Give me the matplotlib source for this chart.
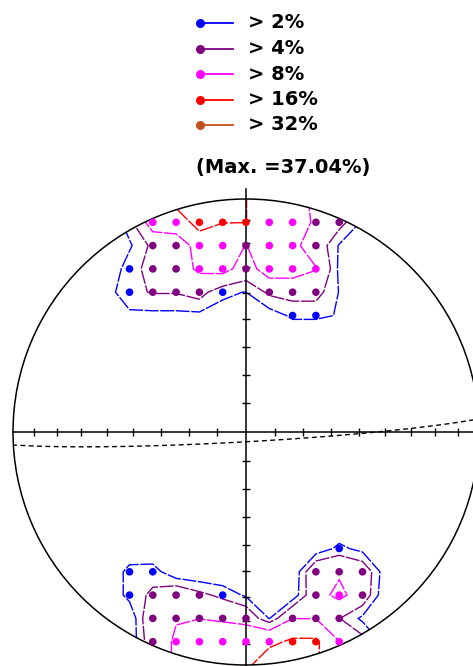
import numpy as np
import matplotlib
matplotlib.use("Agg")
import matplotlib.pyplot as plt
from matplotlib.patches import Circle
from matplotlib.lines import Line2D

# contour levels (percent of poles per counting cell)
levels = [2, 4, 8, 16, 32]
level_colors = ["#0000FF", "#800080", "#FF00FF", "#FF0000", "#C0501E"]
level_labels = ["> 2%", "> 4%", "> 8%", "> 16%", "> 32%"]
max_label = "(Max. =37.04%)"

# counting grid values, estimated from the dots and contour positions
cols = list(range(-7, 8))

top_rows = [10, 9, 8, 7, 6, 5]
top_vals = [
    [0, 0, 0, 10, 20.3, 22, 20, 16.1, 12, 10, 7, 4, 1, 0, 0],
    [0, 0, 3, 10.3, 9.5, 20.3, 16.2, 16.1, 12, 10, 7.44, 5, 1.67, 0, 0],
    [0, 0, 1.67, 4.6, 6.5, 9, 10, 7.9, 10, 9, 6, 1.8, 0.5, 0, 0],
    [0, 0, 3.1, 4.9, 6, 8.7, 9.5, 6, 10.3, 10, 8.2, 1.5, 0, 0, 0],
    [0, 1, 3.5, 4.15, 4.15, 5.1, 2.1, 1.98, 4.5, 5, 5, 1.9, 0, 0, 0],
    [0, 0, 1.5, 1.45, 1.45, 1.45, 1.8, 1.0, 0.93, 2.4, 2.4, 1.87, 0, 0, 0],
]

bottom_rows = [-5, -6, -7, -8, -9, -10]
bottom_vals = [
    [0, 0, 0.3, 0, 0, 0, 0, 0, 0, 0, 0.5, 2.56, 1.26, 0, 0],
    [0, 0, 2.74, 3.0, 0.25, 0, 0, 0, 0, 0, 7, 7.5, 6.2, 0.6, 0],
    [0, 0, 2.74, 4.5, 6.5, 4.7, 3.35, 1.66, 1.0, 0.5, 6.5, 9, 6, 0.1, 0],
    [0, 0, 0.1, 7, 7.8, 7.9, 7.3, 6.5, 1.9, 7.9, 7.9, 4.1, 1.5, 0.5, 0],
    [0, 0, 0.3, 6, 8.5, 12, 12, 12, 13.9, 17.4, 17.4, 8.1, 5, 1, 0],
    [0, 0, 0, 6, 8.5, 12, 12, 14, 22, 20, 17.4, 7, 4, 0, 0],
]

# mean plane shown as dashed great circle
plane_dipdir = 176.8
plane_dip = 86.6

# ticks on the axes every 10 degrees
tick_angles = [10, 20, 30, 40, 50, 60, 70, 80]

# build the grid
grid = np.arange(-10, 11)
Z = np.zeros((grid.size, grid.size))
for rows, vals in ((top_rows, top_vals), (bottom_rows, bottom_vals)):
    for r, line in zip(rows, vals):
        for c, v in zip(cols, line):
            Z[r + 10, c + 10] = v
X, Y = np.meshgrid(grid, grid)

W, H = 473, 666
R = 10
px = 23.3           # pixels per grid unit
cx, cy = 246, 432   # centre of the net in pixels

fig = plt.figure(figsize=(W / 100, H / 100), dpi=100)
ax = fig.add_axes([0, 0, 1, 1])
ax.set_xlim(-cx / px, (W - cx) / px)
ax.set_ylim(-(H - cy) / px, cy / px)
ax.axis("off")

# primitive circle
ax.add_patch(Circle((0, 0), R, fill=False, ec="black", lw=1.1, zorder=3))
clip = Circle((0, 0), R, transform=ax.transData)

# contours
cs = ax.contour(X, Y, Z, levels=levels, colors=level_colors, linewidths=1.0, zorder=2)
cs.set_linestyle((0, (10, 1.2)))
cs.set_clip_path(clip)

# axes cross with ticks
ax.plot([-R, R], [0, 0], color="black", lw=1.1, zorder=3)
ax.plot([0, 0], [-R, R + 0.45], color="black", lw=1.1, zorder=3)
tick_r = R * np.sqrt(2) * np.sin(np.radians(tick_angles) / 2)
tk = 0.17
for sgn in (-1, 1):
    ax.vlines(sgn * tick_r, -tk, tk, color="black", lw=1.0, zorder=3)
    ax.hlines(sgn * tick_r, -tk, tk, color="black", lw=1.0, zorder=3)

# great circle of the plane (equal-area, lower hemisphere)
dd = np.radians(plane_dipdir)
dp = np.radians(plane_dip)
s = np.array([np.sin(dd - np.pi / 2), np.cos(dd - np.pi / 2), 0.0])
d = np.array([np.cos(dp) * np.sin(dd), np.cos(dp) * np.cos(dd), np.sin(dp)])
theta = np.linspace(0, np.pi, 181)
v = np.outer(np.cos(theta), s) + np.outer(np.sin(theta), d)
plunge = np.arcsin(np.clip(v[:, 2], -1, 1))
trend = np.arctan2(v[:, 0], v[:, 1])
rr = R * np.sqrt(2) * np.sin((np.pi / 2 - plunge) / 2)
ax.plot(rr * np.sin(trend), rr * np.cos(trend), color="black", lw=1.0,
        ls=(0, (3.5, 2.5)), zorder=3)

# dots at counting points above 2%
mask = (Z >= levels[0]) & (np.hypot(X, Y) < 9.95)
cls = np.digitize(Z, levels) - 1
dot_colors = [level_colors[k] for k in cls[mask]]
ax.scatter(X[mask], Y[mask], c=dot_colors, s=30, linewidths=0, zorder=4)

# legend
def fx(p):
    return p / W

def fy(p):
    return 1 - p / H

legend_y = [23, 48.5, 74, 99.5, 125]
for y, col, lab in zip(legend_y, level_colors, level_labels):
    fig.add_artist(Line2D([fx(200), fx(233)], [fy(y)] * 2, color=col, lw=1.3,
                          transform=fig.transFigure))
    fig.add_artist(Line2D([fx(200)], [fy(y)], marker="o", ms=5.5, color=col,
                          transform=fig.transFigure))
    fig.text(fx(248), fy(y), lab, fontsize=14, fontweight="bold", va="center", ha="left")

fig.text(fx(283), fy(168), max_label, fontsize=14, fontweight="bold", va="center", ha="center")

fig.savefig("out.png", dpi=100, facecolor="white")
